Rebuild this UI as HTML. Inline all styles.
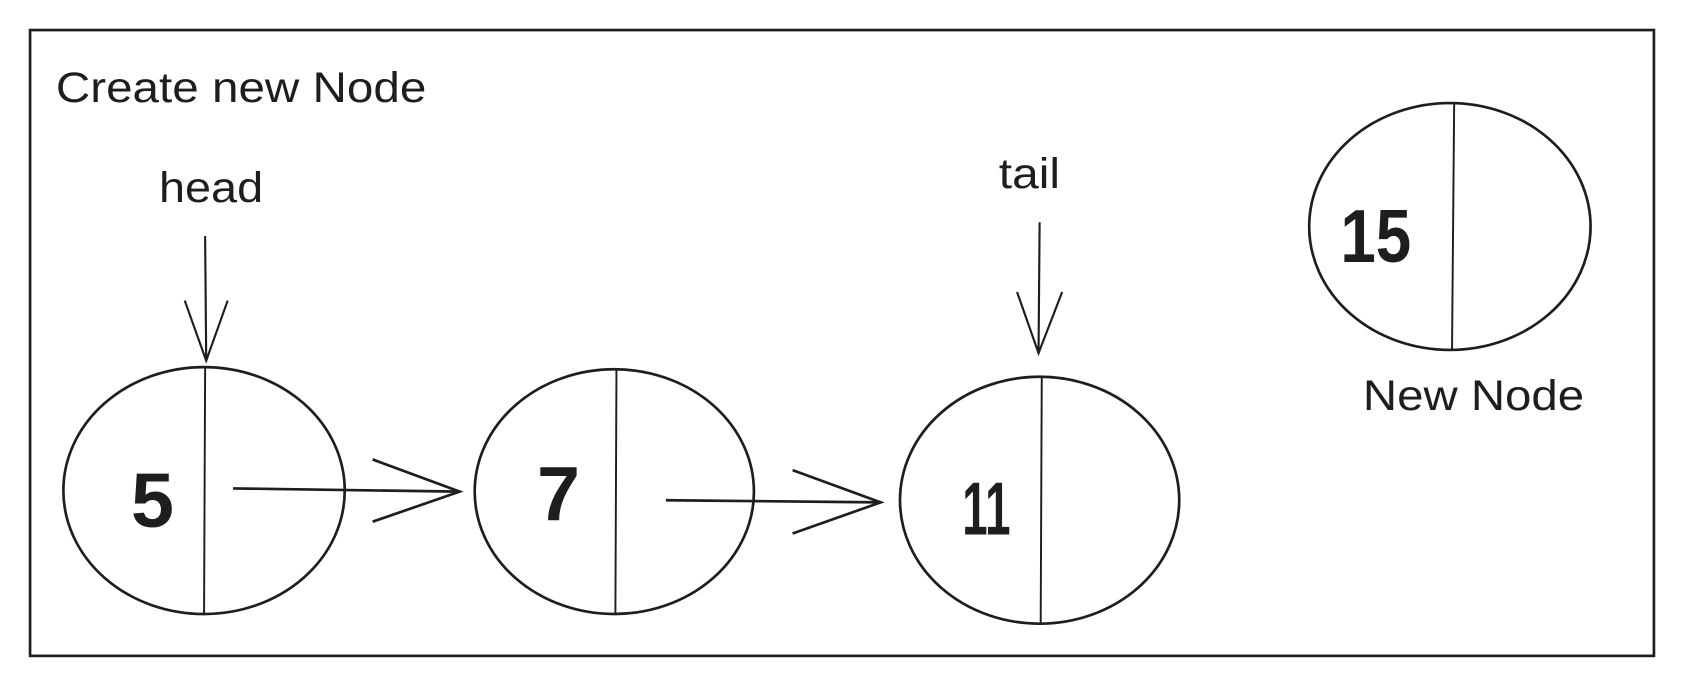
<!DOCTYPE html>
<html><head><meta charset="utf-8"><style>
html,body{margin:0;padding:0;background:#fff;}
svg{display:block;}
text{font-family:"Liberation Sans",sans-serif;fill:#1e1e1e;}
.num{font-family:"Liberation Sans",sans-serif;font-weight:bold;}
</style></head><body>
<svg width="1684" height="687" viewBox="0 0 1568 640" preserveAspectRatio="none">
<rect x="0" y="0" width="1568" height="640" fill="#fff"/>
<rect x="28" y="28" width="1512" height="583" fill="none" stroke="#1e1e1e" stroke-width="2.5"/>
<text x="52" y="95" font-size="40" textLength="345" lengthAdjust="spacingAndGlyphs">Create new Node</text>
<g fill="none" stroke="#1e1e1e" stroke-width="2.5">
<ellipse cx="190" cy="457" rx="131" ry="115"/>
<line x1="191" y1="342" x2="190" y2="572" stroke-width="1.8"/>
<ellipse cx="572" cy="458" rx="130" ry="114"/>
<line x1="574" y1="344" x2="573" y2="572" stroke-width="1.8"/>
<ellipse cx="968" cy="466" rx="130" ry="115"/>
<line x1="970" y1="351" x2="969" y2="581" stroke-width="1.8"/>
<ellipse cx="1350" cy="211" rx="131" ry="115"/>
<line x1="1354" y1="96" x2="1352" y2="326" stroke-width="1.8"/>
<g>
<line x1="217" y1="455" x2="428" y2="458"/><polyline points="347,428 428,458 347,486"/></g>
<g>
<line x1="620" y1="466" x2="820" y2="468"/><polyline points="738,438 820,468 738,497"/></g>
<g stroke-width="2">
<line x1="191" y1="220" x2="192" y2="336"/><polyline points="172,280 192,336 212,280"/></g>
<g stroke-width="2">
<line x1="968" y1="207" x2="967" y2="329"/><polyline points="947,272 967,329 989,272"/></g>
</g>
<text class="num" x="122" y="491" font-size="72">5</text>
<text class="num" x="500" y="485" font-size="72">7</text>
<text class="num" x="896" y="498" font-size="70" textLength="45" lengthAdjust="spacingAndGlyphs">11</text>
<text class="num" x="1248" y="244" font-size="70" textLength="66" lengthAdjust="spacingAndGlyphs">15</text>
<text x="148" y="188" font-size="40" textLength="97" lengthAdjust="spacingAndGlyphs">head</text>
<text x="930" y="175" font-size="40" textLength="57" lengthAdjust="spacingAndGlyphs">tail</text>
<text x="1269" y="382" font-size="40" textLength="206" lengthAdjust="spacingAndGlyphs">New Node</text>
</svg>
</body></html>
